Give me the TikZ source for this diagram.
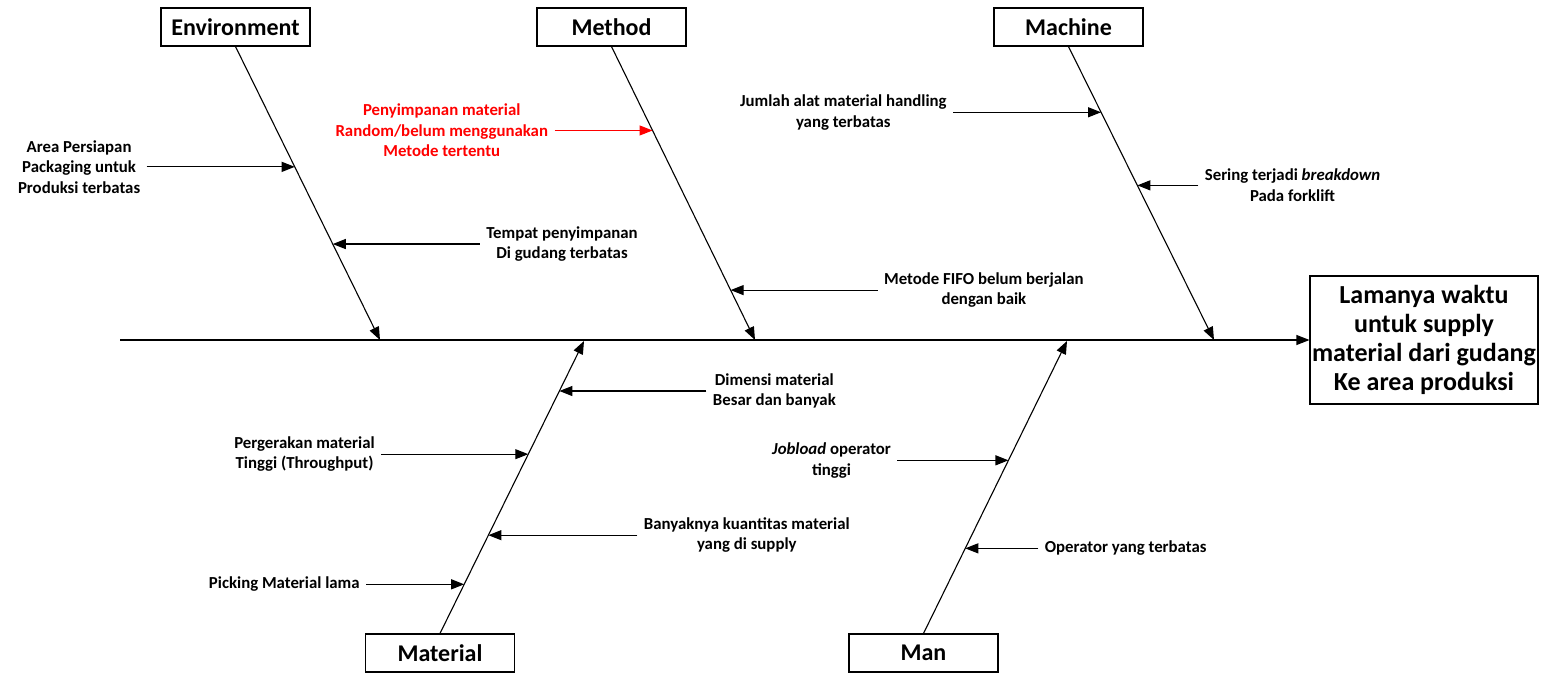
\documentclass[tikz,border=0pt]{standalone}
\usepackage{fontspec}
\setmainfont{Carlito}
\usetikzlibrary{positioning,calc,arrows.meta}

\tikzset{
    catbox/.style={draw, minimum width=149pt, minimum height=38pt, inner sep=0pt, font=\fontsize{24}{28}\selectfont\bfseries},
    cause/.style={align=center, inner xsep=6pt, inner ysep=0pt, font=\fontsize{16.8}{20.5}\selectfont\bfseries},
    effectbox/.style={draw, minimum width=228pt, minimum height=128pt, inner sep=0pt, align=center, font=\fontsize{26}{29}\selectfont\bfseries},
}

\begin{document}
\begin{tikzpicture}[x=1pt, y=-1pt, >={Triangle[length=13pt,width=10pt]}, line width=1.1pt]
    \useasboundingbox (0,0) rectangle (1543,674);
    % categories and effect
    \node[catbox] (env) at (235.5,27) {Environment};
    \node[catbox] (meth) at (611.5,27) {Method};
    \node[catbox] (mach) at (1068.5,27) {Machine};
    \node[catbox] (mat) at (440,653) {Material};
    \node[catbox] (man) at (923.5,653) {Man};
    \node[effectbox] (effect) at (1424,340) {Lamanya waktu\\untuk supply\\material dari gudang\\Ke area produksi};
    % spine
    \coordinate (tail) at (120,340);
    \draw[->] (tail) -- (effect);
    % bones
    \coordinate (envend) at (380,340);
    \coordinate (methend) at (755,340);
    \coordinate (machend) at (1214,340);
    \coordinate (matend) at (584,341);
    \coordinate (manend) at (1067,341);
    \draw[->] (env.south) -- (envend);
    \draw[->] (meth.south) -- (methend);
    \draw[->] (mach.south) -- (machend);
    \draw[->] (mat.north) -- (matend);
    \draw[->] (man.north) -- (manend);
    % points on the bones
    \coordinate (t1) at ($(env.south)!0.41!(envend)$);
    \coordinate (t2) at ($(env.south)!0.673!(envend)$);
    \coordinate (t3) at ($(meth.south)!0.286!(methend)$);
    \coordinate (t4) at ($(meth.south)!0.83!(methend)$);
    \coordinate (t5) at ($(mach.south)!0.224!(machend)$);
    \coordinate (t6) at ($(mach.south)!0.473!(machend)$);
    \coordinate (t7) at ($(mat.north)!0.829!(matend)$);
    \coordinate (t8) at ($(mat.north)!0.613!(matend)$);
    \coordinate (t9) at ($(mat.north)!0.336!(matend)$);
    \coordinate (t10) at ($(mat.north)!0.168!(matend)$);
    \coordinate (t11) at ($(man.north)!0.592!(manend)$);
    \coordinate (t12) at ($(man.north)!0.291!(manend)$);
    % causes
    \node[cause, left=148pt of t1] (c1) {Area Persiapan\\Packaging untuk\\Produksi terbatas};
    \node[cause, right=147pt of t2] (c2) {Tempat penyimpanan\\Di gudang terbatas};
    \node[cause, text=red, left=98pt of t3] (c3) {Penyimpanan material\\Random/belum menggunakan\\Metode tertentu};
    \node[cause, right=147pt of t4] (c4) {Metode FIFO belum berjalan\\dengan baik};
    \node[cause, left=148pt of t5] (c5) {Jumlah alat material handling\\yang terbatas};
    \node[cause, right=61pt of t6] (c6) {Sering terjadi \textit{breakdown}\\Pada forklift};
    \node[cause, right=147pt of t7] (c7) {Dimensi material\\Besar dan banyak};
    \node[cause, left=147pt of t8] (c8) {Pergerakan material\\Tinggi (Throughput)};
    \node[cause, right=149pt of t9] (c9) {Banyaknya kuantitas material\\yang di supply};
    \node[cause, left=98pt of t10] (c10) {Picking Material lama};
    \node[cause, left=111pt of t11] (c11) {\textit{Jobload} operator\\tinggi};
    \node[cause, right=73pt of t12] (c12) {Operator yang terbatas};
    % cause arrows
    \draw[->] (c1) -- (t1);
    \draw[->] (c2) -- (t2);
    \draw[->, red] (c3) -- (t3);
    \draw[->] (c4) -- (t4);
    \draw[->] (c5) -- (t5);
    \draw[->] (c6) -- (t6);
    \draw[->] (c7) -- (t7);
    \draw[->] (c8) -- (t8);
    \draw[->] (c9) -- (t9);
    \draw[->] (c10) -- (t10);
    \draw[->] (c11) -- (t11);
    \draw[->] (c12) -- (t12);
\end{tikzpicture}
\end{document}
